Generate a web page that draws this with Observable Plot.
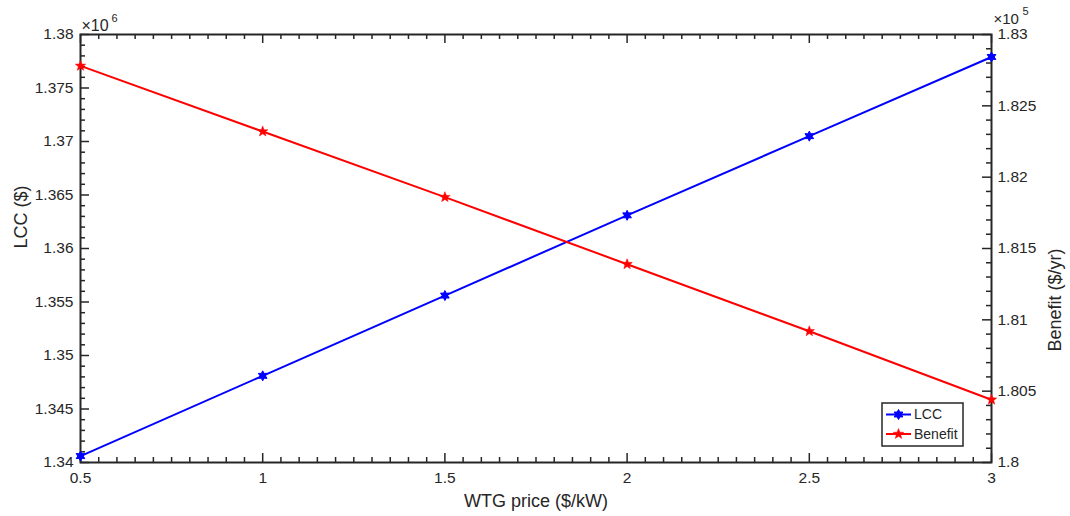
<!DOCTYPE html>
<html><head><meta charset="utf-8">
<script src="https://cdn.jsdelivr.net/npm/d3@7"></script>
<script src="https://cdn.jsdelivr.net/npm/@observablehq/plot@0.6"></script>
<style>body{margin:0;background:#fff;} #chart{width:1070px;height:516px;}</style>
</head><body><div id="chart"></div>
<script>
// ---- data ----
const wtgPrice = [0.5, 1, 1.5, 2, 2.5, 3];                         // $/kW
const lcc = [1.3406, 1.3481, 1.3556, 1.3631, 1.3705, 1.3779];       // ×10^6 $
const benefit = [1.8278, 1.8232, 1.8186, 1.8139, 1.8092, 1.8044];   // ×10^5 $/yr
const xTicks = [0.5, 1, 1.5, 2, 2.5, 3];
const lccTicks = [1.34, 1.345, 1.35, 1.355, 1.36, 1.365, 1.37, 1.375, 1.38];
const benefitTicks = [1.8, 1.805, 1.81, 1.815, 1.82, 1.825, 1.83];
const seriesNames = ["LCC", "Benefit"];
const seriesColors = ["#0000ff", "#ff0000"];
const xTitle = "WTG price ($/kW)", yLeftTitle = "LCC ($)", yRightTitle = "Benefit ($/yr)";

// ---- layout ----
const W = 1070, H = 516, mL = 80, mR = 79, mT = 34, mB = 54;
const iW = W - mL - mR, iH = H - mT - mB;
const ink = "#262626";
const font = "Liberation Sans, Arial, Helvetica, sans-serif";

const lDom = [1.34, 1.38], rDom = [1.8, 1.83];
const toLeft = b => lDom[0] + (b - rDom[0]) * (lDom[1] - lDom[0]) / (rDom[1] - rDom[0]);
const toRight = l => rDom[0] + (l - lDom[0]) * (rDom[1] - rDom[0]) / (lDom[1] - lDom[0]);
const round = v => Math.round(v * 1e6) / 1e6;

const xMinor = d3.range(0.5, 3.0001, 0.05).map(round).filter(v => !xTicks.some(t => Math.abs(t - v) < 1e-9));
const lMinor = d3.range(1.34, 1.38001, 0.001).map(round).filter(v => !lccTicks.some(t => Math.abs(t - v) < 1e-9));
const rMinor = d3.range(1.8, 1.83001, 0.001).map(round).filter(v => !benefitTicks.some(t => Math.abs(t - v) < 1e-9));

const lccData = wtgPrice.map((x, i) => ({x, y: lcc[i]}));
const benData = wtgPrice.map((x, i) => ({x, y: toLeft(benefit[i])}));

function star(n, ratio) {
  return {draw(ctx, size) {
    const R = Math.sqrt(size / Math.PI), r = R * ratio;
    for (let i = 0; i < 2 * n; i++) {
      const a = Math.PI / n * i - Math.PI / 2, rr = i % 2 ? r : R;
      const x = rr * Math.cos(a), y = rr * Math.sin(a);
      i ? ctx.lineTo(x, y) : ctx.moveTo(x, y);
    }
    ctx.closePath();
  }};
}
const hexagram = star(6, 0.55);
const pentagram = star(5, 0.42);
const symR = [5, 5.5];

const MAJ = 9, MIN = 5, tw = 1.5;
const plot = Plot.plot({
  width: W, height: H,
  marginLeft: mL, marginRight: mR, marginTop: mT, marginBottom: mB,
  style: {fontFamily: font, fontSize: "15px", color: ink, background: "#fff"},
  x: {domain: [0.5, 3]},
  y: {domain: lDom},
  marks: [
    // ticks, inward
    Plot.tickX(xTicks, {x: d => d, stroke: ink, strokeWidth: tw, insetTop: iH - MAJ}),
    Plot.tickX(xMinor, {x: d => d, stroke: ink, strokeWidth: tw, insetTop: iH - MIN}),
    Plot.tickX(xTicks, {x: d => d, stroke: ink, strokeWidth: tw, insetBottom: iH - MAJ}),
    Plot.tickX(xMinor, {x: d => d, stroke: ink, strokeWidth: tw, insetBottom: iH - MIN}),
    Plot.tickY(lccTicks, {y: d => d, stroke: ink, strokeWidth: tw, insetRight: iW - MAJ}),
    Plot.tickY(lMinor, {y: d => d, stroke: ink, strokeWidth: tw, insetRight: iW - MIN}),
    Plot.tickY(benefitTicks, {y: d => toLeft(d), stroke: ink, strokeWidth: tw, insetLeft: iW - MAJ}),
    Plot.tickY(rMinor, {y: d => toLeft(d), stroke: ink, strokeWidth: tw, insetLeft: iW - MIN}),
    Plot.frame({stroke: ink, strokeWidth: 2}),
    // tick labels
    Plot.axisX(xTicks, {anchor: "bottom", tickSize: 0, tickPadding: 9, label: null, fill: ink, fontSize: 15.5, tickFormat: d => String(d)}),
    Plot.axisY(lccTicks, {anchor: "left", tickSize: 0, tickPadding: 7, label: null, fill: ink, fontSize: 15.5, tickFormat: d => String(d)}),
    Plot.axisY(benefitTicks.map(toLeft), {anchor: "right", tickSize: 0, tickPadding: 6, label: null, fill: ink, fontSize: 15.5,
      tickFormat: d => String(round(toRight(d)))}),
    // axis titles
    Plot.text([xTitle], {frameAnchor: "bottom", dy: 44, fill: ink, fontSize: 18}),
    Plot.text([yLeftTitle], {frameAnchor: "left", dx: -59.5, rotate: -90, fill: ink, fontSize: 18}),
    Plot.text([yRightTitle], {frameAnchor: "right", dx: 64, rotate: -90, fill: ink, fontSize: 18}),
    // series
    Plot.line(lccData, {x: "x", y: "y", stroke: seriesColors[0], strokeWidth: 2}),
    Plot.line(benData, {x: "x", y: "y", stroke: seriesColors[1], strokeWidth: 2}),
    Plot.dot(lccData, {x: "x", y: "y", symbol: hexagram, r: symR[0], fill: seriesColors[0], stroke: seriesColors[0], strokeWidth: 1}),
    Plot.dot(benData, {x: "x", y: "y", symbol: pentagram, r: symR[1], fill: seriesColors[1], stroke: seriesColors[1], strokeWidth: 0.5}),
    // exponent labels
    Plot.text(["×10"], {frameAnchor: "top-left", textAnchor: "start", dx: 1, dy: -15, fill: ink, fontSize: 16}),
    Plot.text(["6"], {frameAnchor: "top-left", textAnchor: "start", dx: 31, dy: -20, fill: ink, fontSize: 11}),
    Plot.text(["×10"], {frameAnchor: "top-right", textAnchor: "start", dx: 2, dy: -21, fill: ink, fontSize: 15}),
    Plot.text(["5"], {frameAnchor: "top-right", textAnchor: "start", dx: 31, dy: -27, fill: ink, fontSize: 11})
  ]
});
document.getElementById("chart").appendChild(plot);

// ---- legend (inside the axes, lower right) ----
const svg = d3.select(plot);
const lg = svg.append("g").attr("transform", "translate(882,403)").attr("font-family", font).attr("text-anchor", "start");
lg.append("rect").attr("width", 81).attr("height", 43).attr("fill", "#fff").attr("stroke", ink).attr("stroke-width", 1.5);
const syms = [hexagram, pentagram];
seriesNames.forEach((name, i) => {
  const cy = 11.5 + i * 19.5;
  lg.append("line").attr("x1", 4).attr("x2", 29).attr("y1", cy).attr("y2", cy).attr("stroke", seriesColors[i]).attr("stroke-width", 2);
  lg.append("path").attr("transform", `translate(16.5,${cy})`)
    .attr("d", d3.symbol(syms[i], Math.PI * symR[i] * symR[i])()).attr("fill", seriesColors[i]).attr("stroke", seriesColors[i]).attr("stroke-width", i ? 0.5 : 1);
  lg.append("text").attr("x", 32).attr("y", cy).attr("dy", "0.35em").attr("font-size", 14).attr("fill", ink).text(name);
});
</script>
</body></html>
